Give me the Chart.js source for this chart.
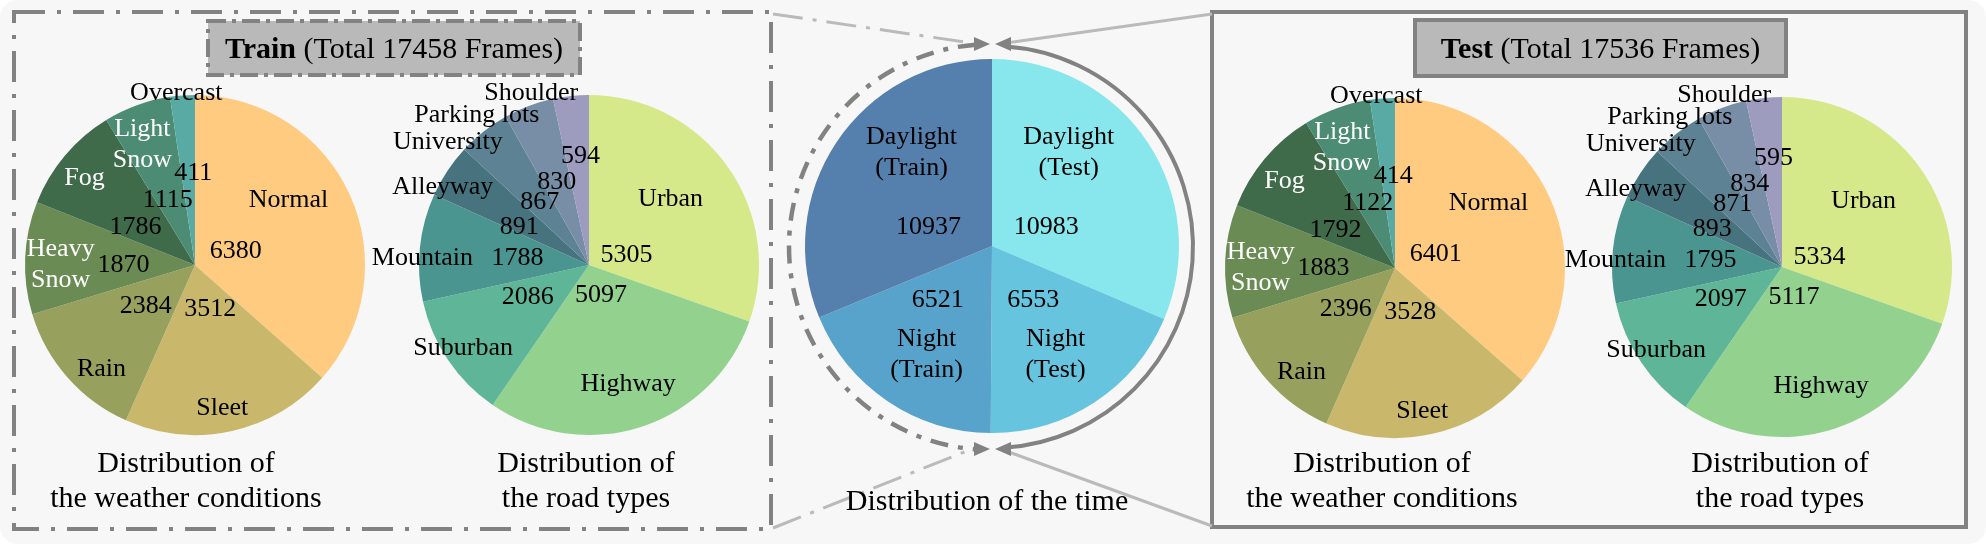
<!DOCTYPE html>
<html>
<head>
<meta charset="utf-8">
<script src="https://cdn.jsdelivr.net/npm/chart.js@4.4.1/dist/chart.umd.min.js"></script>
<style>
  html, body { margin: 0; padding: 0; background: #ffffff; }
  #page {
    position: relative; width: 1986px; height: 544px; background: #f7f7f7;
    border-radius: 18px; overflow: hidden;
    font-family: 'Liberation Serif', 'Times New Roman', serif; color: #000;
  }
  #deco { position: absolute; left: 0; top: 0; }
  .pie { position: absolute; }
  .cap {
    position: absolute; font-size: 30px; line-height: 35px; text-align: center;
    transform: translateX(-50%); white-space: nowrap;
  }
  .title {
    position: absolute; font-size: 30px; display: flex; align-items: center;
    justify-content: center; white-space: nowrap;
  }
</style>
</head>
<body>
<div id="page">
  <canvas id="deco" width="1986" height="544"></canvas>

  <div class="title" style="left:208px;top:21px;width:372px;height:54px;"><b>Train</b>&nbsp;(Total 17458 Frames)</div>
  <div class="title" style="left:1415px;top:20px;width:371px;height:56px;"><b>Test</b>&nbsp;(Total 17536 Frames)</div>

  <canvas class="pie" id="trainWeather" width="440" height="380" style="left:-25px;top:75px;"></canvas>
  <canvas class="pie" id="trainRoad" width="440" height="380" style="left:369px;top:75px;"></canvas>
  <canvas class="pie" id="timePie" width="440" height="414" style="left:772px;top:39px;"></canvas>
  <canvas class="pie" id="testWeather" width="440" height="380" style="left:1175px;top:78px;"></canvas>
  <canvas class="pie" id="testRoad" width="440" height="380" style="left:1562px;top:77px;"></canvas>

  <div class="cap" style="left:186px;top:444px;">Distribution of<br>the weather conditions</div>
  <div class="cap" style="left:586px;top:444px;">Distribution of<br>the road types</div>
  <div class="cap" style="left:987px;top:482px;">Distribution of the time</div>
  <div class="cap" style="left:1382px;top:444px;">Distribution of<br>the weather conditions</div>
  <div class="cap" style="left:1780px;top:444px;">Distribution of<br>the road types</div>
</div>

<script>
// ---- data ----------------------------------------------------------------
const weatherLabels = ['Normal', 'Sleet', 'Rain', 'Heavy Snow', 'Fog', 'Light Snow', 'Overcast'];
const weatherTrain = [6380, 3512, 2384, 1870, 1786, 1115, 411];
const weatherTest = [6401, 3528, 2396, 1883, 1792, 1122, 414];

const roadLabels = ['Urban', 'Highway', 'Suburban', 'Mountain', 'Alleyway', 'University', 'Parking lots', 'Shoulder'];
const roadTrain = [5305, 5097, 2086, 1788, 891, 867, 830, 594];
const roadTest = [5334, 5117, 2097, 1795, 893, 871, 834, 595];

const timeLabels = ['Daylight (Test)', 'Night (Test)', 'Night (Train)', 'Daylight (Train)'];
const timeValues = [10983, 6553, 6521, 10937];

// ---- colours --------------------------------------------------------------
const weatherColors = ['#FFCB80', '#C9B86B', '#97A05C', '#6A8B53', '#3F6B4B', '#4C8C74', '#59AAA4'];
const roadColors = ['#D5E88A', '#93D18F', '#5EB598', '#4A9590', '#47737F', '#5C8294', '#778EA6', '#9D9BBE'];
const timeColors = ['#88E7EC', '#66C4DE', '#58A3CB', '#557FAD'];

// ---- label layout (offsets as fractions of the pie radius) ---------------
const weatherLayout = {
  namePos: [[0.55, -0.38], [0.16, 0.84], [-0.55, 0.61], [-0.79, 0.0], [-0.65, -0.51], [-0.31, -0.71], [-0.11, -1.01]],
  valuePos: [[0.24, -0.08], [0.09, 0.26], [-0.29, 0.24], [-0.42, 0.0], [-0.35, -0.22], [-0.16, -0.38], [-0.01, -0.54]],
  nameColor: ['#000', '#000', '#000', '#fff', '#fff', '#fff', '#000'],
  wrap: [3, 5]
};
const roadLayout = {
  namePos: [[0.48, -0.39], [0.23, 0.70], [-0.74, 0.49], [-0.98, -0.04], [-0.86, -0.46], [-0.83, -0.72], [-0.66, -0.88], [-0.34, -1.01]],
  valuePos: [[0.22, -0.06], [0.07, 0.18], [-0.36, 0.19], [-0.42, -0.04], [-0.41, -0.22], [-0.29, -0.37], [-0.19, -0.49], [-0.05, -0.64]],
  nameColor: ['#000', '#000', '#000', '#000', '#000', '#000', '#000', '#000'],
  wrap: []
};
const timeLayout = {
  namePos: [[0.41, -0.50], [0.34, 0.58], [-0.35, 0.58], [-0.43, -0.50]],
  valuePos: [[0.29, -0.10], [0.22, 0.29], [-0.29, 0.29], [-0.34, -0.10]],
  nameColor: ['#000', '#000', '#000', '#000'],
  wrap: [0, 1, 2, 3]
};

// Draws category names and counts on top of each pie.
const pieLabels = {
  id: 'pieLabels',
  afterDatasetsDraw(chart, args, opts) {
    const arc = chart.getDatasetMeta(0).data[0];
    const cx = arc.x, cy = arc.y, r = arc.outerRadius;
    const ctx = chart.ctx;
    const values = chart.data.datasets[0].data;
    ctx.save();
    ctx.font = "26px 'Liberation Serif', 'Times New Roman', serif";
    ctx.textAlign = 'center';
    ctx.textBaseline = 'middle';
    chart.data.labels.forEach((name, i) => {
      const lines = opts.wrap.includes(i) ? name.split(' ') : [name];
      const [nx, ny] = opts.namePos[i];
      ctx.fillStyle = opts.nameColor[i];
      lines.forEach((ln, k) => {
        ctx.fillText(ln, cx + nx * r, cy + ny * r + (k - (lines.length - 1) / 2) * 31);
      });
      const [vx, vy] = opts.valuePos[i];
      ctx.fillStyle = '#000';
      ctx.fillText(String(values[i]), cx + vx * r, cy + vy * r);
    });
    ctx.restore();
  }
};

function makePie(id, labels, values, colors, layout, padding) {
  return new Chart(document.getElementById(id), {
    type: 'pie',
    data: {
      labels,
      datasets: [{ data: values, backgroundColor: colors, borderWidth: 0, hoverOffset: 0, offset: 0 }]
    },
    options: {
      responsive: false,
      animation: false,
      events: [],
      layout: { padding },
      plugins: { legend: { display: false }, tooltip: { enabled: false }, pieLabels: layout }
    },
    plugins: [pieLabels]
  });
}

const sidePad = { top: 20, bottom: 20, left: 50, right: 50 };
makePie('trainWeather', weatherLabels, weatherTrain, weatherColors, weatherLayout, sidePad);
makePie('trainRoad', roadLabels, roadTrain, roadColors, roadLayout, sidePad);
makePie('timePie', timeLabels, timeValues, timeColors, timeLayout, { top: 20, bottom: 20, left: 20, right: 20 });
makePie('testWeather', weatherLabels, weatherTest, weatherColors, weatherLayout, sidePad);
makePie('testRoad', roadLabels, roadTest, roadColors, roadLayout, sidePad);

// ---- frames, connectors and arrows ---------------------------------------
(function drawDeco() {
  const ctx = document.getElementById('deco').getContext('2d');
  const dashDot = [31, 12, 4, 12];
  const grey = '#828282';

  function rect(x0, y0, x1, y1, dash, fill) {
    if (fill) { ctx.fillStyle = fill; ctx.fillRect(x0, y0, x1 - x0, y1 - y0); }
    ctx.setLineDash(dash);
    ctx.strokeStyle = grey;
    ctx.lineWidth = 4;
    ctx.strokeRect(x0, y0, x1 - x0, y1 - y0);
  }
  function line(x0, y0, x1, y1, dash) {
    ctx.setLineDash(dash);
    ctx.strokeStyle = '#bababa';
    ctx.lineWidth = 3;
    ctx.beginPath(); ctx.moveTo(x0, y0); ctx.lineTo(x1, y1); ctx.stroke();
  }
  function head(tx, ty, dir) {
    ctx.setLineDash([]);
    ctx.fillStyle = grey;
    ctx.beginPath();
    ctx.moveTo(tx, ty);
    ctx.lineTo(tx - dir * 16, ty - 7);
    ctx.lineTo(tx - dir * 16, ty + 7);
    ctx.closePath(); ctx.fill();
  }

  rect(14, 12, 771, 529, dashDot);
  rect(1212, 12, 1966, 527, []);
  rect(208, 21, 580, 75, [18, 6, 4, 6], '#b9b9b9');
  rect(1415, 20, 1786, 76, [], '#b9b9b9');

  line(773, 14, 972, 43, [30, 10, 4, 10]);
  line(773, 528, 972, 449, [30, 10, 4, 10]);
  line(1212, 14, 1006, 43, []);
  line(1212, 526, 1006, 451, []);

  const cx = 992, cy = 247;
  ctx.strokeStyle = grey;
  ctx.lineWidth = 4.5;
  ctx.setLineDash([18, 10, 5, 10]);
  ctx.beginPath();
  ctx.arc(cx, cy, 203, -Math.PI / 2 - 0.08, Math.PI / 2 + 0.08, true);
  ctx.stroke();
  head(990, 44, 1);
  head(990, 449, 1);

  ctx.setLineDash([]);
  ctx.lineWidth = 4;
  ctx.beginPath();
  ctx.arc(cx, cy, 201, -Math.PI / 2 + 0.07, Math.PI / 2 - 0.07, false);
  ctx.stroke();
  head(995, 44, -1);
  head(995, 449, -1);
})();
</script>
</body>
</html>
